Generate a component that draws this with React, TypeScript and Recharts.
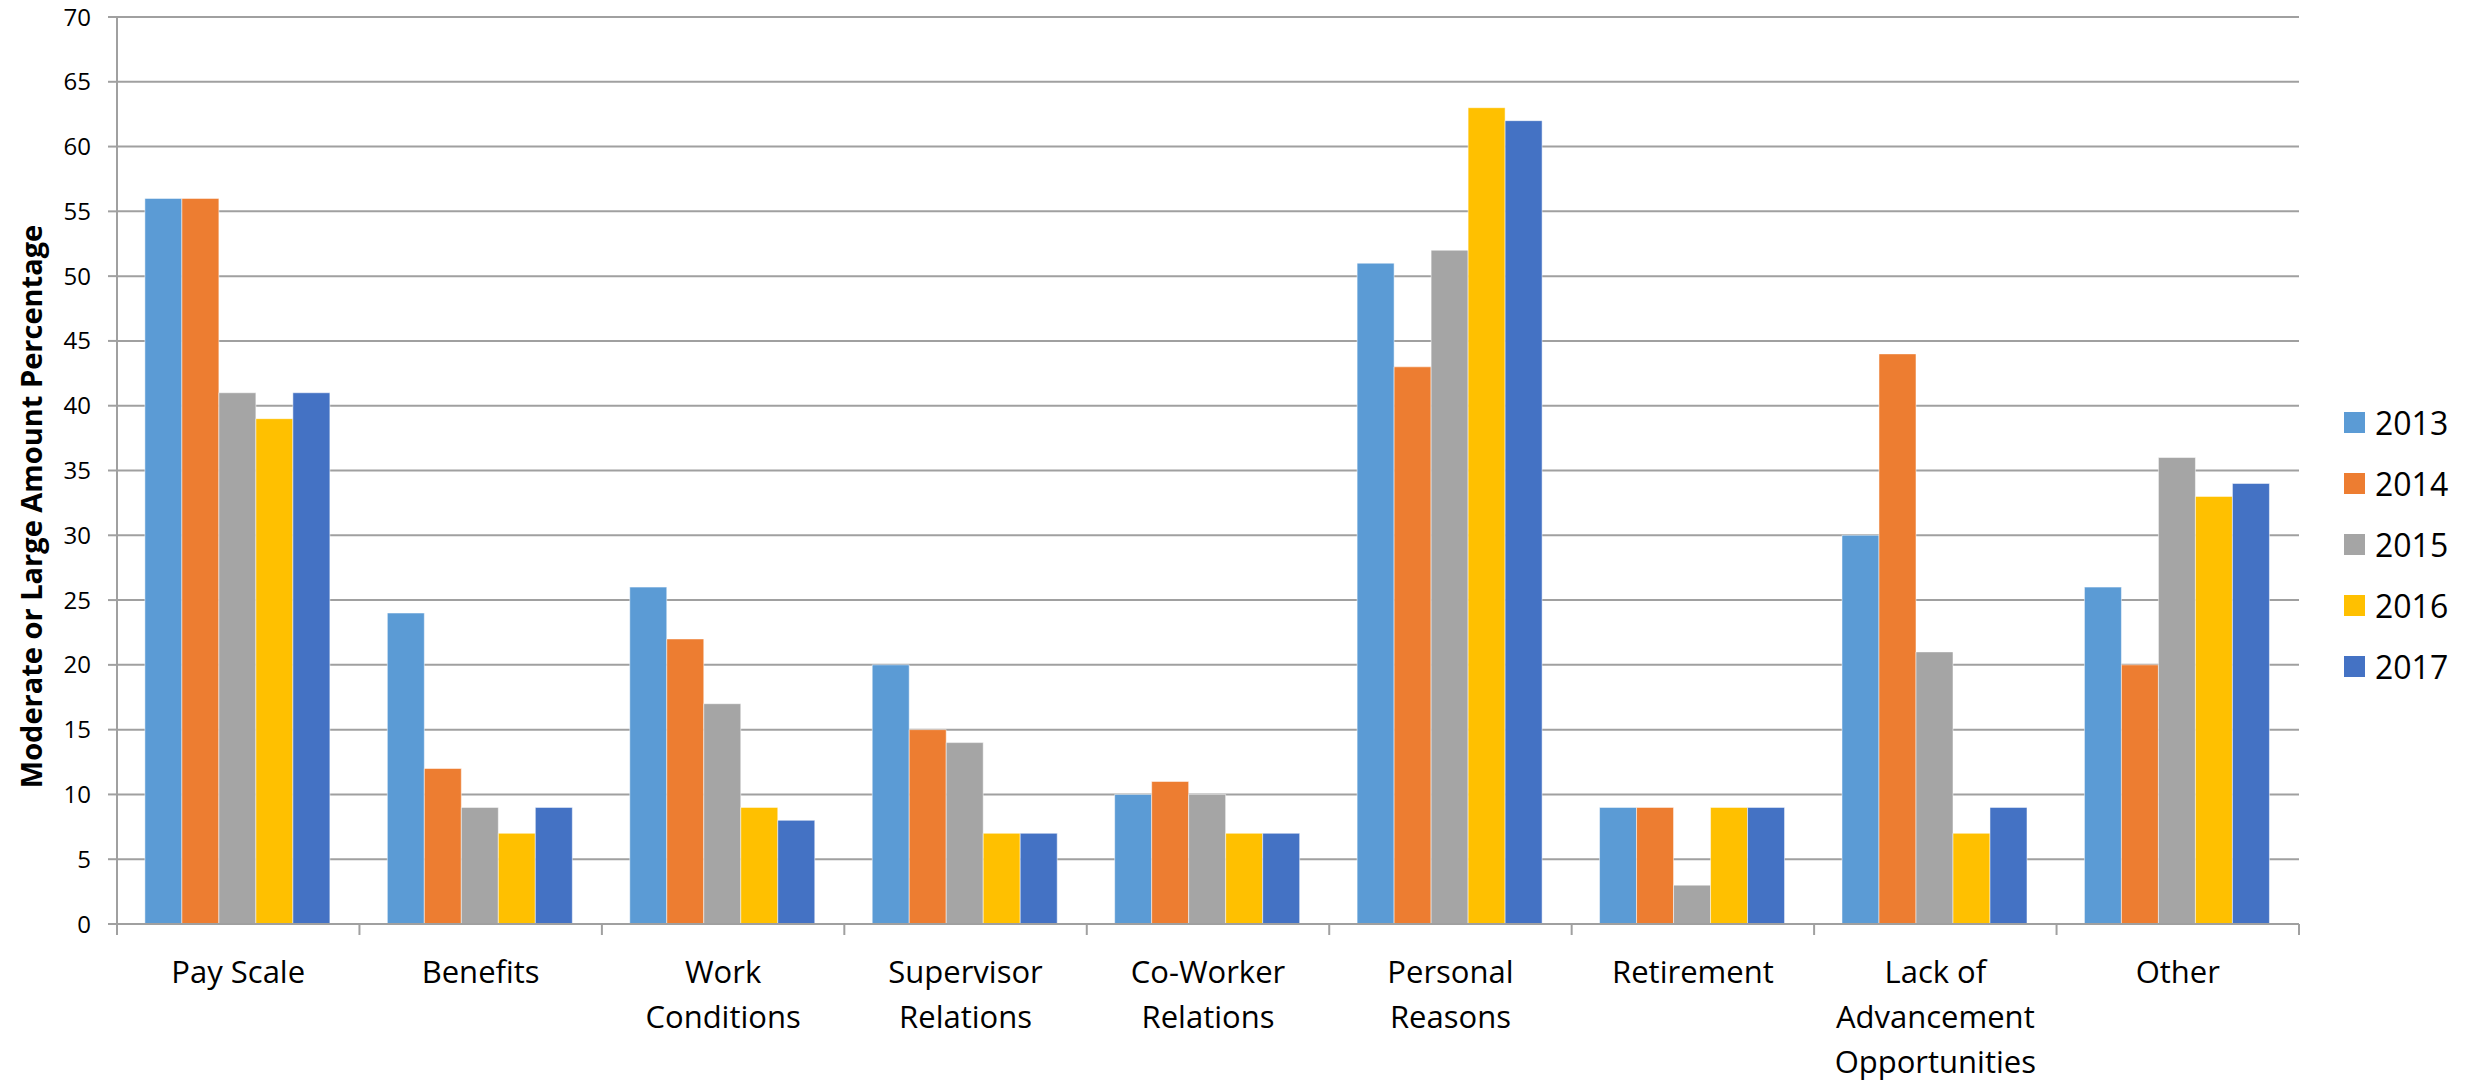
import { Bar, BarChart, CartesianGrid, Legend, XAxis, YAxis } from "recharts";

const CATEGORIES = [
  "Pay Scale",
  "Benefits",
  "Work\nConditions",
  "Supervisor\nRelations",
  "Co-Worker\nRelations",
  "Personal\nReasons",
  "Retirement",
  "Lack of\nAdvancement\nOpportunities",
  "Other",
];

const YEARS = ["2013", "2014", "2015", "2016", "2017"];

const Y2013 = [56, 24, 26, 20, 10, 51, 9, 30, 26];
const Y2014 = [56, 12, 22, 15, 11, 43, 9, 44, 20];
const Y2015 = [41, 9, 17, 14, 10, 52, 3, 21, 36];
const Y2016 = [39, 7, 9, 7, 7, 63, 9, 7, 33];
const Y2017 = [41, 9, 8, 7, 7, 62, 9, 9, 34];

const Y_TICKS = [0, 5, 10, 15, 20, 25, 30, 35, 40, 45, 50, 55, 60, 65, 70];

const COLORS = ["#5B9BD5", "#ED7D31", "#A5A5A5", "#FFC000", "#4472C4"];

const SERIES = [Y2013, Y2014, Y2015, Y2016, Y2017];

const data = CATEGORIES.map((name, i) => {
  const row: Record<string, string | number> = { name };
  YEARS.forEach((yr, s) => {
    row[yr] = SERIES[s][i];
  });
  return row;
});

const FONT = "'Open Sans', 'DejaVu Sans', sans-serif";
const AXIS_GREY = "#A0A0A0";

function CategoryTick(props: any) {
  const { x, y, payload, index } = props;
  const half = payload.offset ?? 0;
  const lines = String(payload.value).split("\n");
  return (
    <g>
      <line x1={x - half} x2={x - half} y1={y} y2={y + 11} stroke={AXIS_GREY} strokeWidth={2} />
      {index === CATEGORIES.length - 1 && (
        <line x1={x + half} x2={x + half} y1={y} y2={y + 11} stroke={AXIS_GREY} strokeWidth={2} />
      )}
      <text textAnchor="middle" fontSize={31} fill="#000" fontFamily={FONT}>
        {lines.map((l, i) => (
          <tspan key={i} x={x} y={y + 59 + i * 45}>
            {l}
          </tspan>
        ))}
      </text>
    </g>
  );
}

function YearLegend(props: any) {
  const { payload } = props;
  return (
    <div style={{ fontFamily: FONT }}>
      {(payload || []).map((p: any) => (
        <div
          key={p.value}
          style={{ display: "flex", alignItems: "center", height: 61 }}
        >
          <span
            style={{
              width: 21,
              height: 21,
              background: p.color,
              display: "inline-block",
              marginRight: 10,
            }}
          />
          <span style={{ fontSize: 32, color: "#000" }}>{p.value}</span>
        </div>
      ))}
    </div>
  );
}

function YTitle(props: any) {
  const { viewBox } = props;
  const cy = viewBox.y + viewBox.height / 2 + 36;
  const cx = 30;
  return (
    <text
      x={cx}
      y={cy}
      transform={`rotate(-90, ${cx}, ${cy})`}
      textAnchor="middle"
      dominantBaseline="central"
      fontSize={29}
      fontWeight="bold"
      fontFamily={FONT}
      fill="#000"
    >
      Moderate or Large Amount Percentage
    </text>
  );
}

export default function App() {
  return (
    <div
      style={{
        position: "absolute",
        left: 0,
        top: 0,
        width: 2476,
        height: 1082,
        background: "#fff",
      }}
    >
      <BarChart
        width={2476}
        height={1082}
        data={data}
        margin={{ top: 17, right: 177, left: 0, bottom: 0 }}
        barCategoryGap="11.5%"
        barGap={0}
      >
        <CartesianGrid vertical={false} stroke={AXIS_GREY} strokeWidth={2} />
        <XAxis
          dataKey="name"
          interval={0}
          height={158}
          tickSize={0}
          tickMargin={0}
          tickLine={false}
          axisLine={{ stroke: AXIS_GREY, strokeWidth: 2 }}
          tick={<CategoryTick />}
        />
        <YAxis
          type="number"
          domain={[0, 70]}
          ticks={Y_TICKS}
          interval={0}
          width={117}
          tickSize={9}
          tickMargin={17}
          tickLine={{ stroke: AXIS_GREY, strokeWidth: 2 }}
          axisLine={{ stroke: AXIS_GREY, strokeWidth: 2 }}
          tick={{ fontSize: 24, fill: "#000", fontFamily: FONT }}
          label={{ content: <YTitle /> }}
        />
        <Legend
          layout="horizontal"
          verticalAlign="middle"
          align="center"
          content={<YearLegend />}
          wrapperStyle={{ left: 2344, top: 392, right: "auto", width: "auto" }}
        />
        {YEARS.map((yr, s) => (
          <Bar
            key={yr}
            dataKey={yr}
            fill={COLORS[s]}
            stroke="#ffffff"
            strokeOpacity={0.5}
            strokeWidth={1}
            isAnimationActive={false}
          />
        ))}
      </BarChart>
    </div>
  );
}
